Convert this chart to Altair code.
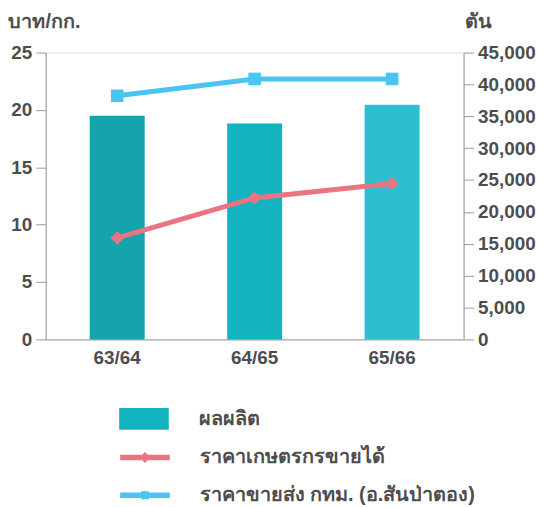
import altair as alt
import pandas as pd

years = ["63/64", "64/65", "65/66"]
production = [35100, 33860, 36810]
farm_price = [8.84, 12.33, 13.59]
wholesale_price = [21.23, 22.70, 22.70]
bar_colors = ["#15a4ad", "#13b3c1", "#2dbfd1"]
series_names = ["ผลผลิต", "ราคาเกษตรกรขายได้", "ราคาขายส่ง กทม. (อ.สันป่าตอง)"]
red = "#e97482"
blue = "#4ac4f0"
text_color = "#4d4d4d"
axis_color = "#9a9a9a"
FONT = "Liberation Sans"

df = pd.DataFrame({
    "year": years,
    "production": production,
    "farm": farm_price,
    "wholesale": wholesale_price,
    "farm_s": [series_names[1]] * 3,
    "whole_s": [series_names[2]] * 3,
})

x_enc = alt.X(
    "year:N", sort=years,
    scale=alt.Scale(paddingInner=0.6, paddingOuter=0.32),
    axis=alt.Axis(title=None, labelAngle=0, ticks=False, labelPadding=9,
                  domainColor=axis_color, labelFontSize=19, labelFont=FONT,
                  labelFontWeight="bold", labelColor=text_color),
)


def legend(x, y, label_expr, path, values=None):
    kw = dict(orient="none", legendX=x, legendY=y, title=None,
              symbolType=path, symbolSize=2500, symbolStrokeWidth=0,
              labelFontSize=20, labelFont=FONT, labelFontWeight="bold",
              labelColor=text_color, labelOffset=30, padding=0, labelLimit=500,
              labelExpr=label_expr)
    if values is not None:
        kw["values"] = values
    return alt.Legend(**kw)


bars = alt.Chart(df).mark_bar().encode(
    x=x_enc,
    y=alt.Y("production:Q", scale=alt.Scale(domain=[0, 45000]),
            axis=alt.Axis(orient="right", values=list(range(0, 45001, 5000)),
                          format=",.0f", grid=False, tickSize=10, labelPadding=4,
                          domainColor=axis_color, tickColor=axis_color,
                          labelFontSize=19, labelFont=FONT, labelFontWeight="bold",
                          labelColor=text_color,
                          title="ตัน", titleAngle=0, titleX=1, titleY=-25,
                          titleAlign="left", titleBaseline="alphabetic",
                          titleFontSize=20, titleFont=FONT, titleFontWeight="bold",
                          titleColor=text_color)),
    color=alt.Color("year:N", sort=years, scale=alt.Scale(domain=years, range=bar_colors),
                    legend=legend(74, 344, "'" + series_names[0] + "'",
                                  "M-1,-0.44H1V0.44H-1Z", values=["64/65"])),
)

y_left = alt.Y("farm:Q", scale=alt.Scale(domain=[0, 25]),
               axis=alt.Axis(orient="left", values=[0, 5, 10, 15, 20, 25], grid=False,
                             tickSize=10, labelPadding=4, domainColor=axis_color,
                             tickColor=axis_color, labelFontSize=19, labelFont=FONT,
                             labelFontWeight="bold", labelColor=text_color,
                             title="บาท/กก.", titleAngle=0, titleX=-38, titleY=-25,
                             titleAlign="left", titleBaseline="alphabetic",
                             titleFontSize=20, titleFont=FONT, titleFontWeight="bold",
                             titleColor=text_color))

red_line = alt.Chart(df).mark_line(strokeWidth=5, color=red).encode(
    x=x_enc, y=y_left)
red_pts = alt.Chart(df).mark_point(shape="diamond", filled=True, size=180, opacity=1).encode(
    x=x_enc,
    y=alt.Y("farm:Q", scale=alt.Scale(domain=[0, 25]), axis=None),
    color=alt.Color("farm_s:N", scale=alt.Scale(domain=[series_names[1]], range=[red]),
                    legend=legend(75, 383, "datum.label",
                                  "M-1,-0.11H1V0.11H-1Z M-0.22,0L0,-0.22L0.22,0L0,0.22Z")),
)

blue_line = alt.Chart(df).mark_line(strokeWidth=5, color=blue).encode(
    x=x_enc,
    y=alt.Y("wholesale:Q", scale=alt.Scale(domain=[0, 25]), axis=None))
blue_pts = alt.Chart(df).mark_point(shape="square", filled=True, size=160, opacity=1).encode(
    x=x_enc,
    y=alt.Y("wholesale:Q", scale=alt.Scale(domain=[0, 25]), axis=None),
    color=alt.Color("whole_s:N", scale=alt.Scale(domain=[series_names[2]], range=[blue]),
                    legend=legend(75, 421, "datum.label",
                                  "M-1,-0.11H1V0.11H-1Z M-0.16,-0.16H0.16V0.16H-0.16Z")),
)

chart = alt.layer(bars, red_line, red_pts, blue_line, blue_pts).resolve_scale(
    y="independent", color="independent"
).properties(
    width=421, height=289,
    autosize=alt.AutoSizeParams(type="none"),
    padding={"left": 38, "top": 43, "right": 80, "bottom": 170},
).configure_view(stroke=None).configure(background="white")

chart.save("out.html", embed_options={"renderer": "svg", "actions": False})
